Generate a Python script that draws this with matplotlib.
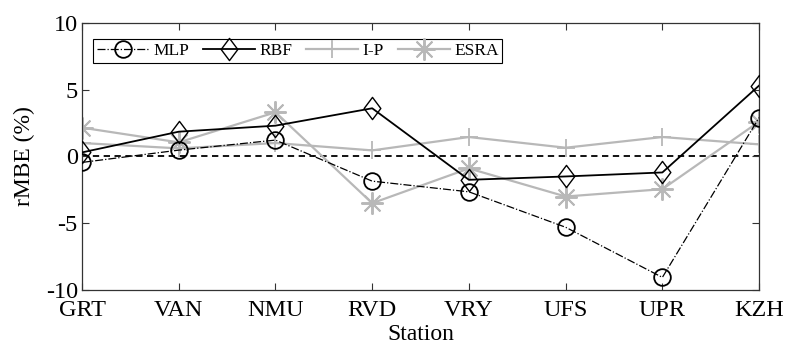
import matplotlib
matplotlib.use("Agg")
import matplotlib.pyplot as plt
from matplotlib.path import Path

plt.rcParams['font.family'] = ['Liberation Serif', 'DejaVu Serif']
plt.rcParams['axes.unicode_minus'] = False

stations = ["GRT", "VAN", "NMU", "RVD", "VRY", "UFS", "UPR", "KZH"]
mlp  = [-0.45, 0.47, 1.22, -1.85, -2.65, -5.3, -9.05, 2.9]
rbf  = [0.3, 1.85, 2.3, 3.6, -1.75, -1.5, -1.2, 5.3]
ip   = [1.0, 0.6, 1.0, 0.45, 1.45, 0.65, 1.45, 0.9]
esra = [2.15, 1.05, 3.3, -3.5, -0.9, -3.0, -2.45, 2.6]
yticks = [-10, -5, 0, 5, 10]

gray = (0.72, 0.72, 0.72)
diamond = Path([(0, 1), (0.75, 0), (0, -1), (-0.75, 0), (0, 1)],
               [Path.MOVETO, Path.LINETO, Path.LINETO, Path.LINETO, Path.CLOSEPOLY])

fig = plt.figure(figsize=(7.85, 3.47), dpi=100)
ax = fig.add_axes([0.1045, 0.164, 0.8625, 0.7705])
x = list(range(len(stations)))

ax.axhline(0, color='black', linestyle=(0, (3.5, 2.5)), linewidth=1.3, zorder=1)
ax.plot(x, mlp, color='black', linestyle='-.', linewidth=0.9, marker='o',
        markersize=12, markerfacecolor='none', markeredgecolor='black',
        markeredgewidth=1.3, label='MLP', zorder=3)
ax.plot(x, rbf, color='black', linestyle='-', linewidth=1.3, marker=diamond,
        markersize=16, markerfacecolor='none', markeredgecolor='black',
        markeredgewidth=1.0, label='RBF', zorder=4)
ax.plot(x, ip, color=gray, linestyle='-', linewidth=1.6, marker='+',
        markersize=13, markeredgewidth=1.3, label='I-P', zorder=2)
ax.plot(x, esra, color=gray, linestyle='-', linewidth=1.6, marker=(8, 2, 0),
        markersize=16, markeredgewidth=1.4, label='ESRA', zorder=2)

ax.set_xlim(0, 7)
ax.set_ylim(-10, 10)
ax.set_xticks(x)
ax.set_xticklabels(stations)
ax.set_yticks(yticks)
ax.tick_params(direction='in', length=5, width=0.8, top=True, right=True,
               labelsize=17.5, color='#333333')
ax.tick_params(axis='x', pad=7)
ax.tick_params(axis='y', pad=3)
for s in ax.spines.values():
    s.set_color('#333333')
    s.set_linewidth(0.9)

ax.set_xlabel('Station', fontsize=17, labelpad=2)
ax.set_ylabel('rMBE (%)', fontsize=17, labelpad=8)

leg = ax.legend(loc='upper left', ncol=4, fontsize=12.5, frameon=True,
                fancybox=False, edgecolor='black', framealpha=1,
                handlelength=3.0, columnspacing=0.8, handletextpad=0.25,
                borderpad=0.2, bbox_to_anchor=(0.004, 0.97))
leg.get_frame().set_linewidth(0.8)

fig.savefig('out.png', dpi=100, facecolor='white')
